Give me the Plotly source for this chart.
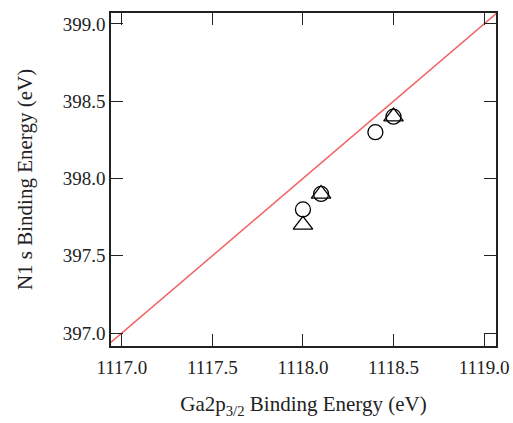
import plotly.graph_objects as go

# Measured binding energies (eV)
circle_ga = [1118.0, 1118.1, 1118.4, 1118.5]
circle_n = [397.8, 397.9, 398.3, 398.4]
triangle_ga = [1118.0, 1118.1, 1118.5]
triangle_n = [397.7, 397.9, 398.4]

# Reference line N1s = Ga2p3/2 - offset
line_ga = [1116.9, 1119.1]
line_offset = 720.0
line_n = [g - line_offset for g in line_ga]

x_ticks = [1117.0, 1117.5, 1118.0, 1118.5, 1119.0]
y_ticks = [397.0, 397.5, 398.0, 398.5, 399.0]

fig = go.Figure()
fig.add_trace(go.Scatter(
    x=line_ga, y=line_n, mode="lines",
    line=dict(color="#f26262", width=1.5), showlegend=False,
))
fig.add_trace(go.Scatter(
    x=circle_ga, y=circle_n, mode="markers",
    marker=dict(symbol="circle-open", size=15, color="black", line=dict(width=1.3)),
    showlegend=False,
))
fig.add_trace(go.Scatter(
    x=triangle_ga, y=triangle_n, mode="markers",
    marker=dict(symbol="triangle-up-open", size=17, color="black", line=dict(width=1.3)),
    showlegend=False,
))

axis_common = dict(
    showgrid=False, zeroline=False, showline=True, linecolor="#222",
    linewidth=1.5, mirror="ticks", ticks="inside", ticklen=12,
    tickwidth=1.3, tickcolor="#222", automargin=False,
    tickfont=dict(family="Liberation Serif", size=19, color="#222"),
)

fig.update_layout(
    width=513, height=423,
    margin=dict(l=111, r=17, t=13, b=77),
    paper_bgcolor="white", plot_bgcolor="white",
    xaxis=dict(
        range=[1116.94, 1119.066], tickvals=x_ticks,
        ticktext=[f"{v:.1f}" for v in x_ticks],
        ticklabelstandoff=3,
        title=dict(text="Ga2p<sub>3/2</sub> Binding Energy (eV)",
                   font=dict(family="Liberation Serif", size=21, color="#222"),
                   standoff=20),
        **axis_common,
    ),
    yaxis=dict(
        range=[396.916, 399.071], tickvals=y_ticks,
        ticktext=[f"{v:.1f}" for v in y_ticks],
        title=dict(text="N1 s Binding Energy (eV)",
                   font=dict(family="Liberation Serif", size=21, color="#222"),
                   standoff=24),
        **axis_common,
    ),
)

fig.write_html("out.html")
